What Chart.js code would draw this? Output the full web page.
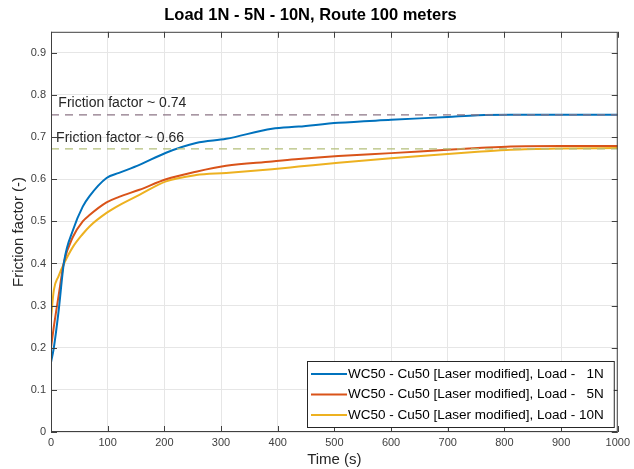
<!DOCTYPE html>
<html>
<head>
<meta charset="utf-8">
<script src="https://cdn.jsdelivr.net/npm/chart.js@4.4.0/dist/chart.umd.min.js"></script>
<style>
  html, body { margin: 0; padding: 0; background: #fff; }
  #wrap { width: 634px; height: 469px; }
</style>
</head>
<body>
<div id="wrap"><canvas id="chart" width="634" height="469"></canvas></div>
<script>
// tempi (s)
const times = [0, 5, 13, 23, 39, 56, 68, 98, 120, 156, 203, 256, 309, 390, 437, 507, 600, 700, 753, 811, 900, 1000];
// coefficiente di attrito per carico
const load1N  = [0.165, 0.20, 0.282, 0.404, 0.48, 0.535, 0.56, 0.603, 0.615, 0.634, 0.663, 0.686, 0.696, 0.72, 0.725, 0.734, 0.741, 0.748, 0.752, 0.753, 0.753, 0.753];
const load5N  = [0.20, 0.25, 0.32, 0.404, 0.464, 0.50, 0.515, 0.545, 0.558, 0.575, 0.60, 0.618, 0.632, 0.642, 0.648, 0.655, 0.662, 0.67, 0.674, 0.678, 0.679, 0.679];
const load10N = [0.27, 0.337, 0.369, 0.40, 0.44, 0.47, 0.488, 0.52, 0.538, 0.563, 0.595, 0.61, 0.615, 0.624, 0.63, 0.639, 0.65, 0.66, 0.665, 0.67, 0.673, 0.674];
const seriesLabels = [
  'WC50 - Cu50 [Laser modified], Load -   1N',
  'WC50 - Cu50 [Laser modified], Load -   5N',
  'WC50 - Cu50 [Laser modified], Load - 10N'
];
// linee di riferimento
const refX = [0, 1000];
const ref074 = [0.753, 0.753];
const ref066 = [0.672, 0.672];
const refTexts = ['Friction factor ~ 0.74', 'Friction factor ~ 0.66'];
const refTextPos = [[13, 0.781], [9, 0.698]];

const xTicks = [0, 100, 200, 300, 400, 500, 600, 700, 800, 900, 1000];
const yTicks = [0, 0.1, 0.2, 0.3, 0.4, 0.5, 0.6, 0.7, 0.8, 0.9];

const FONT = '"Liberation Sans", Arial, sans-serif';
const colors = ['#0072BD', '#D95319', '#EDB120'];

function toPoints(xs, ys) {
  return xs.map((x, i) => ({ x: x, y: ys[i] }));
}

// Plugin: testo annotazioni, tacche interne e legenda
const extras = {
  id: 'extras',
  afterDatasetsDraw(chart) {
    const ctx = chart.ctx;
    const xs = chart.scales.x, ys = chart.scales.y;
    const a = chart.chartArea;

    // testi
    ctx.save();
    ctx.font = '14px ' + FONT;
    ctx.fillStyle = '#262626';
    ctx.textBaseline = 'middle';
    refTexts.forEach((t, i) => {
      ctx.fillText(t, xs.getPixelForValue(refTextPos[i][0]), ys.getPixelForValue(refTextPos[i][1]));
    });
    ctx.restore();

    // bordo e tacche
    ctx.save();
    ctx.strokeStyle = '#404040';
    ctx.lineWidth = 1;
    ctx.strokeRect(a.left + 0.5, a.top + 0.5, a.right - a.left - 1, a.bottom - a.top - 1);
    ctx.beginPath();
    xTicks.forEach(v => {
      const px = Math.round(xs.getPixelForValue(v)) + 0.5;
      ctx.moveTo(px, a.bottom); ctx.lineTo(px, a.bottom - 6);
      ctx.moveTo(px, a.top); ctx.lineTo(px, a.top + 6);
    });
    yTicks.forEach(v => {
      const py = Math.round(ys.getPixelForValue(v)) + 0.5;
      ctx.moveTo(a.left, py); ctx.lineTo(a.left + 6, py);
      ctx.moveTo(a.right, py); ctx.lineTo(a.right - 6, py);
    });
    ctx.stroke();
    ctx.restore();

    // legenda
    const bx = 307, by = 361, bw = a.right - 4 - bx, bh = 66;
    ctx.save();
    ctx.fillStyle = '#fff';
    ctx.fillRect(bx, by, bw, bh);
    ctx.strokeStyle = '#262626';
    ctx.lineWidth = 1;
    ctx.strokeRect(bx + 0.5, by + 0.5, bw, bh);
    ctx.font = '13.5px ' + FONT;
    ctx.textBaseline = 'middle';
    seriesLabels.forEach((lab, i) => {
      const cy = by + 13 + i * 20.5;
      ctx.strokeStyle = colors[i];
      ctx.lineWidth = 2;
      ctx.beginPath();
      ctx.moveTo(bx + 4, cy); ctx.lineTo(bx + 40, cy);
      ctx.stroke();
      ctx.fillStyle = '#000';
      ctx.fillText(lab, bx + 41, cy);
    });
    ctx.restore();
  }
};

const ctx = document.getElementById('chart').getContext('2d');
new Chart(ctx, {
  type: 'line',
  data: {
    datasets: [
      { label: 'ref074', data: toPoints(refX, ref074), borderColor: '#8c7585', borderWidth: 1.2, borderDash: [8, 6], pointRadius: 0, tension: 0 },
      { label: 'ref066', data: toPoints(refX, ref066), borderColor: '#b3bf7a', borderWidth: 1.2, borderDash: [8, 6], pointRadius: 0, tension: 0 },
      { label: seriesLabels[0], data: toPoints(times, load1N), borderColor: colors[0], borderWidth: 2, pointRadius: 0, cubicInterpolationMode: 'monotone' },
      { label: seriesLabels[1], data: toPoints(times, load5N), borderColor: colors[1], borderWidth: 2, pointRadius: 0, cubicInterpolationMode: 'monotone' },
      { label: seriesLabels[2], data: toPoints(times, load10N), borderColor: colors[2], borderWidth: 2, pointRadius: 0, cubicInterpolationMode: 'monotone' }
    ]
  },
  options: {
    responsive: false,
    animation: false,
    layout: { padding: { top: 0, right: 13, left: 0, bottom: 0 } },
    plugins: {
      legend: { display: false },
      tooltip: { enabled: false },
      title: {
        display: true,
        text: 'Load 1N - 5N - 10N, Route 100 meters',
        color: '#000',
        font: { family: FONT, size: 16.5, weight: 'bold' },
        padding: { top: 6, bottom: 6 }
      }
    },
    scales: {
      x: {
        type: 'linear',
        min: 0, max: 1000,
        afterFit(scale) { scale.height = 37; },
        afterBuildTicks(scale) { scale.ticks = xTicks.map(v => ({ value: v })); },
        ticks: { color: '#404040', font: { family: FONT, size: 11 }, padding: 4, maxRotation: 0, callback: v => String(v) },
        grid: { color: '#e6e6e6', drawTicks: false },
        border: { display: false },
        title: { display: true, text: 'Time (s)', color: '#262626', font: { family: FONT, size: 15 }, padding: { top: 0, bottom: 0 } }
      },
      y: {
        type: 'linear',
        min: 0, max: 0.95,
        afterFit(scale) { scale.width = 51; },
        afterBuildTicks(scale) { scale.ticks = yTicks.map(v => ({ value: v })); },
        ticks: { color: '#404040', font: { family: FONT, size: 11 }, padding: 5, callback: v => String(Math.round(v * 10) / 10) },
        grid: { color: '#e6e6e6', drawTicks: false },
        border: { display: false },
        title: { display: true, text: 'Friction factor (-)', color: '#262626', font: { family: FONT, size: 15 }, padding: { top: 10, bottom: 0 } }
      }
    }
  },
  plugins: [extras]
});
</script>
</body>
</html>
